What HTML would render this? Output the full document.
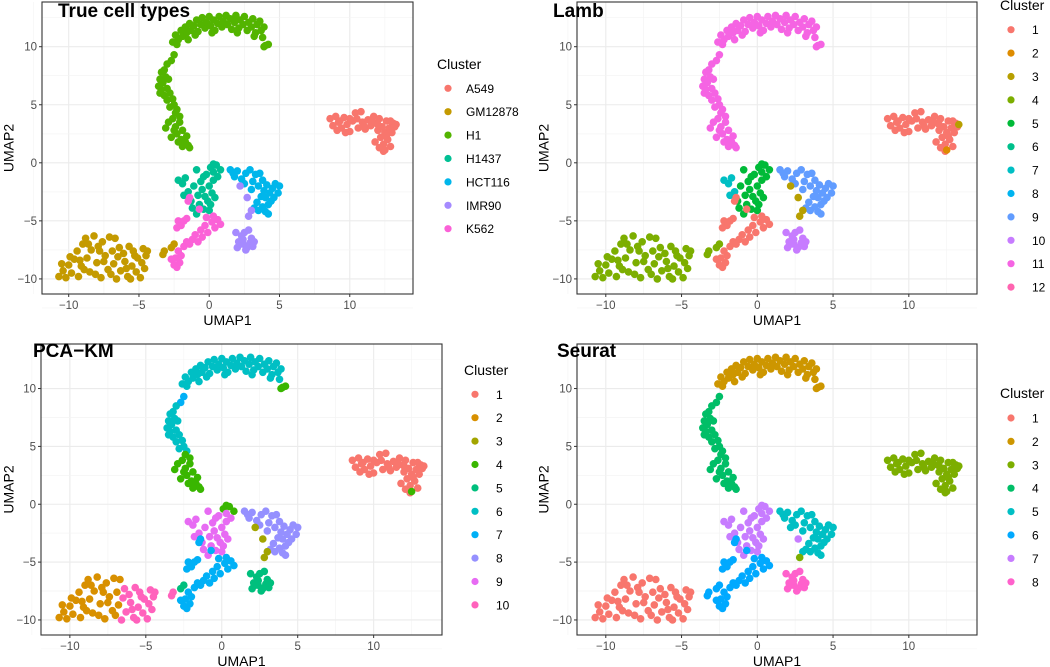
<!DOCTYPE html>
<html><head><meta charset="utf-8">
<style>
html,body{margin:0;padding:0;background:#fff;}
svg{display:block;font-family:"Liberation Sans",Arial,sans-serif;}
</style></head>
<body>
<svg id="chart" width="1050" height="667" viewBox="0 0 1050 667" xmlns="http://www.w3.org/2000/svg"></svg>
<script>
// ---- data ----
const xTicks=[-10,-5,0,5,10];
const yTicks=[-10,-5,0,5,10];
const xTickLabels=["−10","−5","0","5","10"];
const yTickLabels=["−10","−5","0","5","10"];
const segA=[[8.6,3.8],[8.8,3.2],[9.0,4.0],[9.2,3.5],[9.4,3.0],[9.1,2.8],[9.6,3.9],[9.8,3.3],[10.0,2.7],[10.2,3.6],[10.4,4.3],[10.6,3.0],[10.8,4.4],[10.9,3.5],[11.1,2.9],[11.3,3.7],[11.5,3.2],[11.7,4.0],[11.9,3.4],[12.0,2.8],[12.1,3.8],[12.2,2.2],[12.3,3.1],[12.4,1.6],[12.5,2.6],[12.6,3.6],[12.7,2.0],[12.8,3.0],[12.9,1.4],[13.0,2.6],[13.1,3.4],[13.2,3.1],[12.4,1.0],[11.8,1.8],[12.1,1.3],[10.0,3.8],[9.3,3.6],[11.0,3.2],[11.6,3.5],[12.9,3.6],[9.7,2.6],[10.5,3.8],[12.0,3.3],[12.6,2.3]];
const segA2=[[13.3,3.3]];
const segA3=[[12.5,1.1]];
const segB=[[-2.6,10.4],[-2.4,11.0],[-2.2,10.6],[-2.0,11.4],[-1.9,10.9],[-1.7,11.7],[-1.6,11.2],[-1.4,12.0],[-1.3,11.4],[-1.1,11.8],[-0.9,12.3],[-0.8,11.3],[-0.6,11.9],[-0.5,12.5],[-0.3,11.6],[-0.2,12.1],[0,12.6],[0.1,11.8],[0.3,12.3],[0.4,11.4],[0.6,12.0],[0.7,12.6],[0.9,11.7],[1.0,12.2],[1.2,12.7],[1.3,11.9],[1.5,12.4],[1.6,11.5],[1.8,12.1],[1.9,12.7],[2.1,11.6],[2.2,12.3],[2.4,11.9],[2.5,12.6],[2.7,11.4],[2.8,12.1],[3.0,11.7],[3.1,12.4],[3.3,11.2],[3.4,11.9],[3.6,12.2],[3.7,11.4],[3.8,10.8],[3.9,11.7],[-2.3,10.2],[-1.0,11.0],[0.2,11.2],[2.0,11.2],[3.2,10.9],[-1.5,10.6]];
const segB2=[[4.0,10.1],[4.2,10.2],[3.9,10.0]];
const segC0=[[-2.5,9.3],[-2.7,8.8]];
const segC=[[-3.0,8.5],[-3.2,8.0],[-3.4,7.8],[-3.5,7.2],[-3.1,7.4],[-3.6,6.6],[-3.3,6.9],[-3.0,6.4],[-3.5,6.0],[-3.2,5.8],[-2.8,6.0],[-2.6,5.5],[-3.0,5.4],[-2.5,5.0],[-2.8,4.8],[-2.3,4.6],[-3.4,6.3],[-2.9,7.2]];
const segC2=[[-2.4,4.3],[-2.1,4.0],[-2.6,3.8],[-2.9,3.5],[-3.1,3.0],[-2.4,3.1],[-2.1,3.5],[-1.9,2.8],[-2.3,2.5],[-2.7,2.2],[-2.0,2.0],[-1.7,1.8],[-1.5,1.5],[-1.9,1.4],[-1.4,1.3],[-2.2,1.8],[-1.6,2.3],[-2.5,2.8]];
const segD1=[[-2.2,-1.5],[-1.9,-1.8],[-1.7,-1.3],[-1.5,-2.5],[-1.8,-2.8]];
const segD2=[[0.1,-0.4],[0.5,-0.2],[0.8,-0.6],[0.3,-0.1]];
const segD3=[[-1.3,-3.3],[-1.1,-2.0],[-0.9,-0.6],[-0.8,-2.8],[-0.7,-3.6],[-0.6,-1.6],[-0.5,-2.3],[-0.4,-4.0],[-0.3,-2.9],[-0.2,-1.0],[-0.1,-3.3],[0,-2.0],[0.2,-2.6],[0.3,-1.5],[0.4,-3.0],[0.6,-1.2],[0.3,-0.8],[-0.4,-1.2],[-0.9,-4.4],[-1.2,-3.9],[0,-4.1],[0.1,-3.6]];
const segE=[[1.5,-0.6],[1.8,-1.2],[2.0,-0.7],[2.3,-1.4],[2.6,-0.9],[2.9,-0.6],[3.1,-1.6],[3.3,-1.0],[3.5,-2.0],[3.6,-0.9],[3.8,-1.5],[3.9,-2.4],[4.0,-3.0],[4.1,-1.9],[4.3,-2.6],[4.5,-2.2],[4.7,-1.8],[4.9,-2.6],[5.0,-2.0],[4.2,-3.6],[4.0,-4.2],[3.8,-3.8],[3.5,-4.1],[3.2,-3.9],[4.4,-3.3],[3.7,-2.9],[2.5,-1.8],[3.0,-2.3],[1.7,-0.9],[4.6,-3.0],[4.2,-4.4],[3.4,-3.4]];
const segF=[[1.9,-6.0],[2.1,-6.8],[2.3,-6.3],[2.0,-7.3],[2.4,-7.0],[2.6,-7.5],[2.5,-6.0],[2.8,-5.8],[2.9,-6.9],[3.1,-7.2],[3.2,-6.8],[2.7,-7.3],[2.2,-7.0],[3.0,-6.5],[2.4,-6.6]];
const segF2=[[2.2,-2.0],[3.0,-4.1]];
const segF3=[[2.7,-3.0]];
const segF4=[[2.8,-4.6]];
const segG=[[-2.3,-9.0],[-2.1,-8.6],[-2.4,-8.2],[-2.0,-8.0],[-2.2,-7.6],[-1.8,-7.2],[-1.6,-6.8],[-1.2,-6.6],[-1.0,-6.2],[-0.8,-6.8],[-0.6,-5.8],[-0.3,-5.4],[-0.1,-6.0],[0.2,-5.1],[0.4,-5.6],[0.6,-4.9],[0.8,-5.3],[-0.5,-6.4],[-1.4,-7.0],[-2.2,-5.0],[-2.0,-5.4],[-2.3,-5.6],[-1.8,-5.0],[-1.6,-4.8],[-2.5,-8.8],[-2.7,-8.3],[-1.4,-3.0],[-1.5,-3.3],[-0.7,-4.0],[-0.2,-4.7],[0.3,-4.6]];
const segH=[[-10.7,-9.8],[-10.4,-9.3],[-10.2,-9.9],[-10.0,-8.8],[-9.8,-9.5],[-9.6,-8.3],[-9.4,-7.6],[-9.3,-9.8],[-9.1,-8.9],[-9.0,-7.0],[-8.8,-6.5],[-8.7,-8.2],[-8.5,-9.4],[-8.4,-7.5],[-8.2,-6.3],[-8.0,-8.6],[-7.9,-7.2],[-7.7,-9.9],[-7.6,-6.8],[-7.4,-8.0],[-7.2,-9.2],[-7.1,-6.4],[-6.9,-7.6],[-6.8,-8.7],[-9.9,-8.1],[-9.2,-8.4],[-8.6,-7.0],[-8.1,-9.6],[-7.5,-8.5],[-7.0,-9.6],[-8.9,-9.2],[-7.8,-7.6],[-10.5,-8.7],[-6.7,-6.5]];
const segH1=[[-6.6,-10.0],[-6.3,-9.3],[-6.1,-7.8],[-6.0,-8.5],[-5.8,-9.8],[-5.7,-7.2],[-5.5,-8.9],[-5.4,-7.6],[-5.2,-9.4],[-5.1,-8.2],[-4.9,-9.9],[-4.8,-8.6],[-4.7,-7.4],[-4.5,-8.0],[-4.6,-9.1],[-6.4,-7.3],[-5.9,-9.1],[-5.3,-8.0],[-6.5,-8.1],[-5.6,-10.0],[-4.4,-7.6]];
const segH2=[[-3.3,-7.9],[-3.2,-7.6]];
const segH3=[[-2.5,-7.0],[-2.7,-7.3]];
const segments=[segA,segA2,segA3,segB,segB2,segC0,segC,segC2,segD1,segD2,segD3,segE,segF,segF2,segF3,segF4,segG,segH,segH1,segH2,segH3];
// cluster labels per segment (1-based index into legend) for each panel
const trueLabels =[1,1,1,3,3,3,3,3,4,4,4,5,6,6,6,6,7,2,2,2,2];
const lambLabels =[1,3,2,11,11,11,11,11,7,5,5,9,10,3,3,3,1,4,4,4,4];
const pcaLabels  =[1,1,4,6,4,7,6,4,9,4,9,8,5,3,3,3,7,2,10,10,5];
const seuratLabels=[3,3,3,2,2,4,4,4,7,7,7,5,8,5,7,3,6,1,1,6,6];
const trueNames=["A549","GM12878","H1","H1437","HCT116","IMR90","K562"];
const lambNames=["1","2","3","4","5","6","7","8","9","10","11","12"];
const pcaNames=["1","2","3","4","5","6","7","8","9","10"];
const seuratNames=["1","2","3","4","5","6","7","8"];
const pal7=["#F8766D","#C49A00","#53B400","#00C094","#00B6EB","#A58AFF","#FB61D7"];
const pal12=["#F8766D","#DE8C00","#B79F00","#7CAE00","#00BA38","#00C08B","#00BFC4","#00B4F0","#619CFF","#C77CFF","#F564E3","#FF64B0"];
const pal10=["#F8766D","#D89000","#A3A500","#39B600","#00BF7D","#00BFC4","#00B0F6","#9590FF","#E76BF3","#FF62BC"];
const pal8=["#F8766D","#CD9600","#7CAE00","#00BE67","#00BFC4","#00A9FF","#C77CFF","#FF61CC"];

// ---- layout ----
const XD=[-11.9,14.5], YD=[-11.3,13.85];
const panels=[
 {name:"true-cell-types",title:"True cell types",labels:trueLabels,names:trueNames,pal:pal7,box:[42,2,413,294],titleX:58,titleY:17,ytX:10,legX:437,legTitleY:69,legY0:88.3},
 {name:"lamb",title:"Lamb",labels:lambLabels,names:lambNames,pal:pal12,box:[577,2,977,294],titleX:553,titleY:17,ytX:545,legX:1000,legTitleY:10,legY0:29.7},
 {name:"pca-km",title:"PCA−KM",labels:pcaLabels,names:pcaNames,pal:pal10,box:[41,344,442,635],titleX:33,titleY:357,ytX:10,legX:464,legTitleY:375,legY0:394.3},
 {name:"seurat",title:"Seurat",labels:seuratLabels,names:seuratNames,pal:pal8,box:[577,344,977,635],titleX:557,titleY:357,ytX:545,legX:1000,legTitleY:398,legY0:418}
];
const NS="http://www.w3.org/2000/svg";
const svg=document.getElementById('chart');
function mk(tag,attrs,parent,text){const e=document.createElementNS(NS,tag);for(const k in attrs)e.setAttribute(k,attrs[k]);if(text!==undefined)e.textContent=text;parent.appendChild(e);return e;}

panels.forEach(p=>{
  const [x0,y0,x1,y1]=p.box;
  const sx=v=>x0+(v-XD[0])/(XD[1]-XD[0])*(x1-x0);
  const sy=v=>y1-(v-YD[0])/(YD[1]-YD[0])*(y1-y0);
  const g=mk('g',{},svg);
  
  
  const bg=mk('rect',{x:x0,y:y0,width:x1-x0,height:y1-y0,fill:'#fff'},g);
  
  
  const grid=mk('g',{},g);
  
  
  for(let i=0;i<xTicks.length;i++){
    mk('line',{x1:sx(xTicks[i]+2.5),x2:sx(xTicks[i]+2.5),y1:y0,y2:y1,stroke:'#F4F4F4','stroke-width':0.6},grid);
    mk('line',{x1:sx(xTicks[i]-2.5),x2:sx(xTicks[i]-2.5),y1:y0,y2:y1,stroke:'#F4F4F4','stroke-width':0.6},grid);
    mk('line',{x1:sx(xTicks[i]),x2:sx(xTicks[i]),y1:y0,y2:y1,stroke:'#EBEBEB','stroke-width':1.1},grid);
  }
  for(let i=0;i<yTicks.length;i++){
    mk('line',{x1:x0,x2:x1,y1:sy(yTicks[i]+2.5),y2:sy(yTicks[i]+2.5),stroke:'#F4F4F4','stroke-width':0.6},grid);
    mk('line',{x1:x0,x2:x1,y1:sy(yTicks[i]-2.5),y2:sy(yTicks[i]-2.5),stroke:'#F4F4F4','stroke-width':0.6},grid);
    mk('line',{x1:x0,x2:x1,y1:sy(yTicks[i]),y2:sy(yTicks[i]),stroke:'#EBEBEB','stroke-width':1.1},grid);
  }
  const pts=mk('g',{},g);
  
  
  segments.forEach((seg,si)=>{
    const col=p.pal[p.labels[si]-1];
    seg.forEach(pt=>{
      const c=mk('circle',{cx:sx(pt[0]).toFixed(1),cy:sy(pt[1]).toFixed(1),r:3.8,fill:col},pts);
      
      
    });
  });
  const border=mk('rect',{x:x0,y:y0,width:x1-x0,height:y1-y0,fill:'none',stroke:'#333','stroke-width':1.1},g);
  
  
  for(let i=0;i<xTicks.length;i++){
    mk('line',{x1:sx(xTicks[i]),x2:sx(xTicks[i]),y1:y1,y2:y1+3,stroke:'#333'},g);
    const t=mk('text',{x:sx(xTicks[i]),y:y1+15,'text-anchor':'middle','font-size':11.5,fill:'#4D4D4D'},g,xTickLabels[i]);
    
    
  }
  for(let i=0;i<yTicks.length;i++){
    mk('line',{x1:x0-3,x2:x0,y1:sy(yTicks[i]),y2:sy(yTicks[i]),stroke:'#333'},g);
    const t=mk('text',{x:x0-5,y:sy(yTicks[i])+4,'text-anchor':'end','font-size':11.5,fill:'#4D4D4D'},g,yTickLabels[i]);
    
    
  }
  const xt=mk('text',{x:(x0+x1)/2,y:y1+31,'text-anchor':'middle','font-size':14,fill:'#000'},g,'UMAP1');
  
  
  const yc=(y0+y1)/2;
  const yt=mk('text',{x:p.ytX,y:yc,'text-anchor':'middle','font-size':14,fill:'#000',transform:'rotate(-90 '+p.ytX+' '+yc+')','dominant-baseline':'middle'},g,'UMAP2');
  
  
  const tt=mk('text',{x:p.titleX,y:p.titleY,'font-size':19,'font-weight':'bold',fill:'#000'},g,p.title);
  
  
  const leg=mk('g',{},g);
  
  
  const lt=mk('text',{x:p.legX,y:p.legTitleY,'font-size':14,fill:'#000'},leg,'Cluster');
  
  
  p.names.forEach((nm,i)=>{
    const yy=p.legY0+i*23.4;
    const e=mk('g',{},leg);
    
    
    mk('circle',{cx:p.legX+11,cy:yy,r:3.6,fill:p.pal[i]},e);
    mk('text',{x:p.legX+(p===panels[0]?29:32),y:yy+4.5,'font-size':12,fill:'#000'},e,nm);
  });
});
</script>
</body></html>
